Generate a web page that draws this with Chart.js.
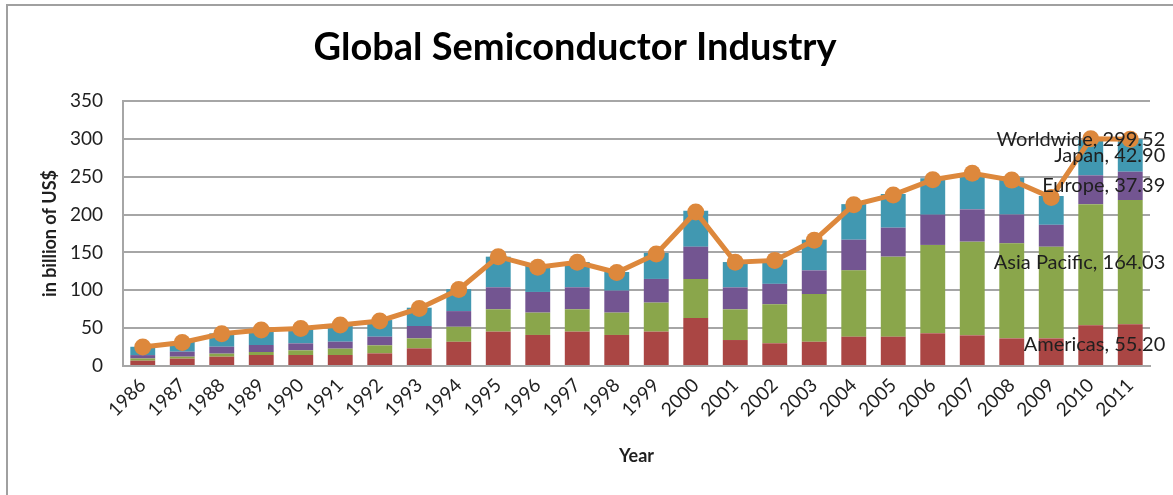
<!DOCTYPE html>
<html>
<head>
<meta charset="utf-8">
<script src="https://cdn.jsdelivr.net/npm/chart.js@4/dist/chart.umd.min.js"></script>
<style>
  body { margin: 0; background: #fff; }
  canvas { display: block; }
</style>
</head>
<body>
<canvas id="semiChart" width="1173" height="495"></canvas>
<script>
const years = ["1986", "1987", "1988", "1989", "1990", "1991", "1992", "1993", "1994", "1995",
  "1996", "1997", "1998", "1999", "2000", "2001", "2002", "2003", "2004", "2005",
  "2006", "2007", "2008", "2009", "2010", "2011"];

const americas = [7, 9.7, 12.3, 14.5, 14.5, 14.5, 16.7, 23.3, 32, 45.4,
  41, 45.4, 41, 45.4, 63.4, 34.3, 30, 32, 38.7, 38.7,
  43.2, 40.5, 36.5, 36.5, 53.7, 55.20];
const asiaPacific = [3, 2.6, 4, 4, 6.2, 8.4, 10.6, 13.2, 19.8, 29.5,
  29.5, 29.5, 29.5, 38.3, 51.5, 40.5, 51.5, 63, 87.6, 105.7,
  116.7, 123.7, 125.5, 121, 160, 164.03];
const europe = [4.4, 6.6, 9.2, 9.2, 9.2, 9.2, 11.4, 16.3, 20.7, 29,
  27.3, 29, 29, 31.3, 42.7, 29, 27, 31.3, 40.5, 38.3,
  40, 42.7, 38, 29, 38.1, 37.39];
const japan = [11, 13, 17.6, 19, 19.4, 21.5, 22, 24.2, 29, 40.5,
  34.3, 33.5, 24.7, 34.3, 47.6, 33.5, 32, 40.5, 47, 44.5,
  48, 47.5, 49, 38, 46.6, 42.90];
const worldwide = [25, 31, 42.5, 47.5, 49.5, 54, 59.5, 76, 101, 144.4,
  130.5, 137, 123.5, 148, 203.5, 137, 139.5, 166, 213, 226,
  246, 254.5, 245.5, 222.5, 300, 299.52];

const yTicks = [0, 50, 100, 150, 200, 250, 300, 350];

const gridGray = "#a6a6a6";
const textDark = "#1f1f1f";

// labels next to the last year's bar, like the excel data labels
const endLabels = {
  id: "endLabels",
  afterDatasetsDraw(chart) {
    const ctx = chart.ctx;
    const last = years.length - 1;
    ctx.save();
    ctx.font = "20px Lato";
    ctx.fillStyle = textDark;
    ctx.textAlign = "right";
    ctx.textBaseline = "middle";
    chart.data.datasets.forEach((ds, i) => {
      const el = chart.getDatasetMeta(i).data[last];
      const y = ds.type === "line" ? el.y : (el.y + el.base) / 2;
      ctx.fillText(ds.label + ", " + ds.data[last].toFixed(2), el.x + 35, y);
    });
    ctx.restore();
  },
};

const frame = {
  id: "frame",
  beforeDraw(chart) {
    const ctx = chart.ctx;
    ctx.save();
    ctx.strokeStyle = "#a0a0a0";
    ctx.lineWidth = 2;
    ctx.beginPath();
    ctx.moveTo(7, chart.height);
    ctx.lineTo(7, 5);
    ctx.lineTo(chart.width, 5);
    ctx.stroke();
    ctx.restore();
  },
};

const barSet = (label, data, color) => ({
  type: "bar",
  label: label,
  data: data,
  backgroundColor: color,
  borderWidth: 0,
  barPercentage: 0.63,
  categoryPercentage: 1,
  order: 1,
});

const ctx = document.getElementById("semiChart").getContext("2d");
new Chart(ctx, {
  data: {
    labels: years,
    datasets: [
      {
        type: "line",
        label: "Worldwide",
        data: worldwide,
        borderColor: "#dd883c",
        backgroundColor: "#dd883c",
        borderWidth: 5,
        pointRadius: 8.5,
        pointBorderWidth: 0,
        pointBackgroundColor: "#dd883c",
        tension: 0,
        order: 0,
      },
      barSet("Americas", americas, "#aa4644"),
      barSet("Asia Pacific", asiaPacific, "#8aa64b"),
      barSet("Europe", europe, "#735591"),
      barSet("Japan", japan, "#4198b1"),
    ],
  },
  options: {
    responsive: false,
    animation: false,
    layout: { padding: { left: 0, right: 23, top: 0, bottom: 0 } },
    plugins: {
      legend: { display: false },
      tooltip: { enabled: false },
      title: {
        display: true,
        text: "Global Semiconductor Industry",
        color: "#000",
        font: { family: "Lato", size: 38, weight: "bold", lineHeight: 1.2 },
        padding: { top: 25, bottom: 30.4 },
      },
    },
    scales: {
      x: {
        stacked: true,
        grid: { display: false, drawTicks: false },
        border: { display: true, color: gridGray, width: 2 },
        ticks: {
          color: textDark,
          font: { family: "Lato", size: 19 },
          minRotation: 45,
          maxRotation: 45,
          padding: 8,
        },
        title: {
          display: true,
          text: "Year",
          color: textDark,
          font: { family: "Lato", size: 18, weight: "bold", lineHeight: 1.2 },
          padding: { top: 4, bottom: 28 },
        },
        afterFit(scale) { scale.height = 129; },
      },
      y: {
        stacked: true,
        min: yTicks[0],
        max: yTicks[yTicks.length - 1],
        afterBuildTicks(scale) { scale.ticks = yTicks.map((v) => ({ value: v })); },
        grid: { color: gridGray, lineWidth: 2, drawTicks: false },
        border: { display: true, color: gridGray, width: 2 },
        ticks: {
          color: textDark,
          font: { family: "Lato", size: 19 },
          padding: 20,
        },
        title: {
          display: true,
          text: "in billion of US$",
          color: textDark,
          font: { family: "Lato", size: 18, weight: "bold", lineHeight: 1.2 },
          padding: { top: 39, bottom: 0 },
        },
        afterFit(scale) { scale.width = 123; },
      },
    },
  },
  plugins: [frame, endLabels],
});
</script>
</body>
</html>
